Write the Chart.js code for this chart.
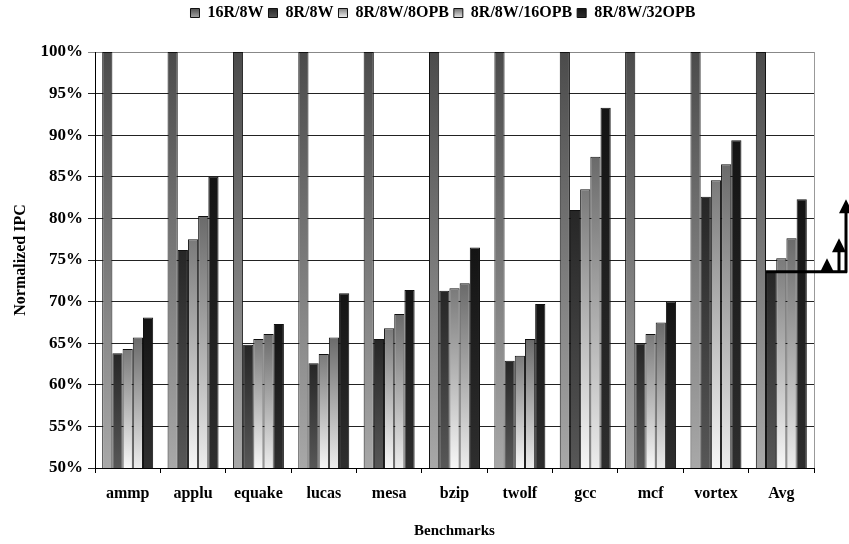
<!DOCTYPE html>
<html>
<head>
<meta charset="utf-8">
<script src="https://cdn.jsdelivr.net/npm/chart.js@4.4.0/dist/chart.umd.min.js"></script>
<style>
  html, body { margin: 0; padding: 0; background: #fff; }
  #wrap { width: 849px; height: 544px; }
</style>
</head>
<body>
<div id="wrap"><canvas id="ipc_chart"></canvas></div>
<script>
const benchmarks = ['ammp', 'applu', 'equake', 'lucas', 'mesa', 'bzip', 'twolf', 'gcc', 'mcf', 'vortex', 'Avg'];
const seriesNames = ['16R/8W', '8R/8W', '8R/8W/8OPB', '8R/8W/16OPB', '8R/8W/32OPB'];
const ipc_16r8w = [100, 100, 100, 100, 100, 100, 100, 100, 100, 100, 100];
const ipc_8r8w = [63.8, 76.2, 64.8, 62.6, 65.5, 71.3, 62.9, 81.0, 65.0, 82.6, 73.6];
const ipc_8opb = [64.3, 77.5, 65.5, 63.7, 66.8, 71.6, 63.5, 83.5, 66.1, 84.6, 75.2];
const ipc_16opb = [65.7, 80.3, 66.1, 65.7, 68.5, 72.2, 65.5, 87.4, 67.5, 86.5, 77.6];
const ipc_32opb = [68.1, 85.0, 67.3, 71.0, 71.4, 76.5, 69.7, 93.3, 70.0, 89.4, 82.3];
const yTicks = [50, 55, 60, 65, 70, 75, 80, 85, 90, 95, 100];

// gradient top -> bottom for each series
const shades = [
    ['#4b4b4b', '#a8a8a8'],
    ['#262626', '#575757'],
    ['#7a7a7a', '#f7f7f7'],
    ['#6a6a6a', '#ececec'],
    ['#141414', '#2e2e2e']
];

function barFill(idx) {
    return function (ctx) {
        const chart = ctx.chart;
        if (!chart.chartArea || ctx.type !== 'data') return shades[idx][0];
        const y = chart.scales.y;
        const top = y.getPixelForValue(ctx.raw);
        const bottom = y.getPixelForValue(50);
        const g = chart.ctx.createLinearGradient(0, top, 0, bottom);
        g.addColorStop(0, shades[idx][0]);
        g.addColorStop(1, shades[idx][1]);
        return g;
    };
}

const serif = "'Liberation Serif', 'Times New Roman', serif";

// fixed legend height, and shift it right like the original
const legendTweak = {
    id: 'legendTweak',
    beforeInit(chart) {
        const lg = chart.legend;
        const fit = lg.fit;
        lg.fit = function () {
            fit.bind(lg)();
            this.height = 52;
        };
        const draw = lg.draw;
        lg.draw = function () {
            const c = chart.ctx;
            c.save();
            c.translate(36, 0);
            draw.bind(lg)();
            c.restore();
        };
    }
};

// right frame line plus the improvement arrows next to Avg
const extras = {
    id: 'extras',
    afterDatasetsDraw(chart) {
        const c = chart.ctx;
        const area = chart.chartArea;
        const y = chart.scales.y;
        c.save();
        c.strokeStyle = '#999';
        c.lineWidth = 1;
        c.beginPath();
        c.moveTo(area.right + 0.5, area.top);
        c.lineTo(area.right + 0.5, area.bottom);
        c.stroke();

        const last = benchmarks.length - 1;
        const base = chart.getDatasetMeta(1).data[last];
        const baseY = y.getPixelForValue(ipc_8r8w[last]);
        const startX = base.x - base.width / 2;
        c.strokeStyle = '#000';
        c.fillStyle = '#000';
        c.lineWidth = 3;
        c.beginPath();
        c.moveTo(startX, baseY);
        c.lineTo(area.right + 33, baseY);
        c.stroke();

        const tips = [ipc_8opb[last], ipc_16opb[last], ipc_32opb[last]];
        const offs = [13, 25, 32];
        tips.forEach(function (v, i) {
            const x = area.right + offs[i];
            const tipY = y.getPixelForValue(v);
            c.lineWidth = 3;
            c.beginPath();
            c.moveTo(x, baseY + 1);
            c.lineTo(x, tipY + 12);
            c.stroke();
            c.beginPath();
            c.moveTo(x, tipY);
            c.lineTo(x - 7, tipY + 14);
            c.lineTo(x + 7, tipY + 14);
            c.closePath();
            c.fill();
        });
        c.restore();
    }
};

const seriesData = [ipc_16r8w, ipc_8r8w, ipc_8opb, ipc_16opb, ipc_32opb];

new Chart(document.getElementById('ipc_chart'), {
    type: 'bar',
    data: {
        labels: benchmarks,
        datasets: seriesNames.map(function (name, i) {
            return {
                label: name,
                data: seriesData[i],
                backgroundColor: barFill(i),
                borderColor: '#111',
                borderWidth: 1,
                barPercentage: 1,
                categoryPercentage: 0.78
            };
        })
    },
    options: {
        responsive: true,
        maintainAspectRatio: false,
        animation: false,
        layout: { padding: { left: 0, right: 35, top: 0, bottom: 0 } },
        plugins: {
            tooltip: { enabled: false },
            legend: {
                position: 'top',
                labels: {
                    color: '#000',
                    font: { family: serif, size: 16, weight: 'bold' },
                    boxWidth: 9,
                    boxHeight: 9,
                    padding: 5,
                    generateLabels: function (chart) {
                        return seriesNames.map(function (name, i) {
                            const g = chart.ctx.createLinearGradient(0, 8, 0, 18);
                            g.addColorStop(0, shades[i][0]);
                            g.addColorStop(1, shades[i][1]);
                            return {
                                text: name,
                                fillStyle: g,
                                strokeStyle: '#111',
                                lineWidth: 1,
                                datasetIndex: i
                            };
                        });
                    }
                }
            }
        },
        scales: {
            x: {
                grid: { drawOnChartArea: false, drawTicks: true, tickLength: 5, color: '#000', offset: true },
                border: { color: '#000', width: 1 },
                ticks: { color: '#000', font: { family: serif, size: 16, weight: 'bold' }, padding: 11, maxRotation: 0 },
                title: {
                    display: true,
                    text: 'Benchmarks',
                    color: '#000',
                    font: { family: serif, size: 15, weight: 'bold' },
                    padding: { top: 14, bottom: 4 }
                },
                afterFit: function (scale) { scale.height = 76; }
            },
            y: {
                min: 50,
                max: 100,
                afterBuildTicks: function (scale) {
                    scale.ticks = yTicks.map(function (v) { return { value: v }; });
                },
                grid: {
                    color: function (ctx) { return ctx.tick && ctx.tick.value === 100 ? '#888' : '#222'; },
                    lineWidth: 1,
                    tickLength: 7
                },
                border: { color: '#000', width: 1 },
                ticks: {
                    color: '#000',
                    font: { family: serif, size: 17, weight: 'bold' },
                    padding: 5,
                    callback: function (v) { return v + '%'; }
                },
                title: {
                    display: true,
                    text: 'Normalized IPC',
                    color: '#000',
                    font: { family: serif, size: 16, weight: 'bold' },
                    padding: { top: 11, bottom: 8 }
                },
                afterFit: function (scale) { scale.width = 95; }
            }
        }
    },
    plugins: [legendTweak, extras]
});
</script>
</body>
</html>
